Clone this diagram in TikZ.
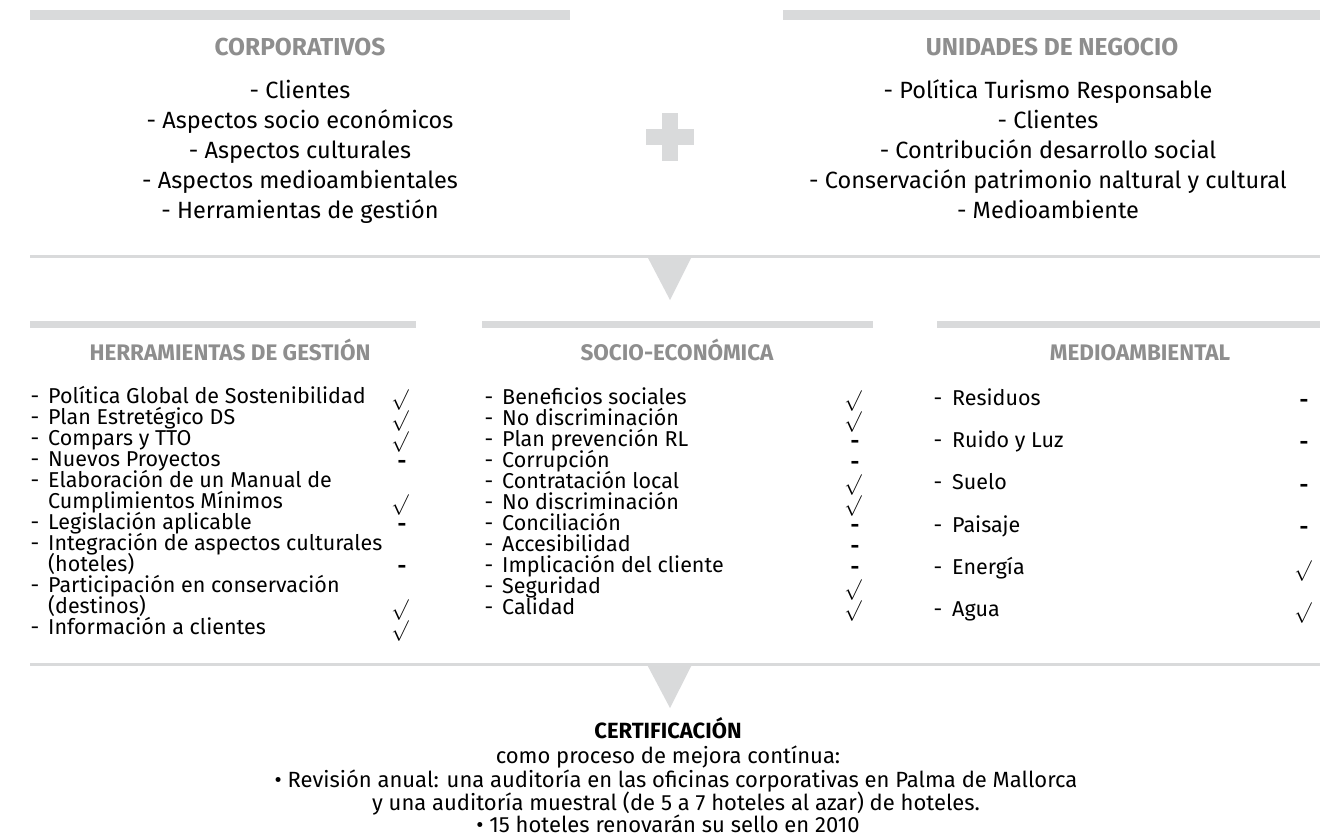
\documentclass[tikz,border=0pt]{standalone}
\usepackage{fontspec}
\setmainfont{Fira Sans}
\definecolor{bargray}{HTML}{D9DADB}
\definecolor{hdrgray}{HTML}{8E8E8E}
\tikzset{
  bar/.style={fill=bargray,draw=none},
  rule/.style={draw=bargray,line width=3pt},
  hdr/.style={text=hdrgray,font=\bfseries\fontsize{24.5}{24.5}\selectfont,inner sep=0pt,text height=0.7em,text depth=0pt},
  hdrb/.style={text=hdrgray,font=\bfseries\fontsize{22.5}{22.5}\selectfont,inner sep=0pt,text height=0.7em,text depth=0pt},
  toptxt/.style={font=\fontsize{23.5}{23.5}\selectfont,inner sep=0pt,text height=0.7em,text depth=0pt},
  bottxt/.style={font=\fontsize{22}{22}\selectfont,inner sep=0pt,text height=0.7em,text depth=0pt},
  coltxt/.style={anchor=west,font=\fontsize{21.5}{21.5}\selectfont,inner sep=0pt,text height=0.7em,text depth=0pt},
  ck/.style={inner sep=0pt,font=\fontsize{22}{22}\selectfont},
  dsh/.style={inner sep=0pt,font=\bfseries\fontsize{21.5}{21.5}\selectfont,text height=0.35em,text depth=0pt}
}
\newcommand{\ckm}{$\surd$}
\begin{document}
\begin{tikzpicture}[x=1pt,y=-1pt]
\useasboundingbox (0,0) rectangle (1335,839);
\fill[white] (0,0) rectangle (1335,839);
% top bars
\fill[bar] (30,10) rectangle (570,20);
\fill[bar] (783,10) rectangle (1320,20);
\node[hdr] (hcorp) at (300,52) {CORPORATIVOS};
\node[hdr] (hunid) at (1052,52) {UNIDADES DE NEGOCIO};
% left list
\node[toptxt] (c1) at (300,95) {- Clientes};
\node[toptxt] (c2) at (300,125) {- Aspectos socio económicos};
\node[toptxt] (c3) at (300,155) {- Aspectos culturales};
\node[toptxt] (c4) at (300,185) {- Aspectos medioambientales};
\node[toptxt] (c5) at (300,215) {- Herramientas de gestión};
% right list
\node[toptxt] (u1) at (1048,95) {- Política Turismo Responsable};
\node[toptxt] (u2) at (1048,125) {- Clientes};
\node[toptxt] (u3) at (1048,155) {- Contribución desarrollo social};
\node[toptxt] (u4) at (1048,185) {- Conservación patrimonio naltural y cultural};
\node[toptxt] (u5) at (1048,215) {- Medioambiente};
% plus
\fill[bargray] (662,113) rectangle (678,161);
\fill[bargray] (646,129) rectangle (694,145);
% rule 1 and triangle
\draw[rule] (30,256) -- (1320,256);
\fill[bargray] (647,256) -- (692,256) -- (670,300) -- cycle;
% row 2 bars
\fill[bar] (30,321) rectangle (416,328);
\fill[bar] (482,321) rectangle (873,328);
\fill[bar] (937,321) rectangle (1320,328);
\node[hdrb] (hherr) at (230,357) {HERRAMIENTAS DE GESTIÓN};
\node[hdrb] (hsoc) at (677,357) {SOCIO-ECONÓMICA};
\node[hdrb] (hmed) at (1140,357) {MEDIOAMBIENTAL};
% column 1
\foreach \i/\d/\t in {0/-/Política Global de Sostenibilidad,1/-/Plan Estretégico DS,2/-/Compars y TTO,3/-/Nuevos Proyectos,4/-/Elaboración de un Manual de,5/ /Cumplimientos Mínimos,6/-/Legislación aplicable,7/-/Integración de aspectos culturales,8/ /(hoteles),9/-/Participación en conservación,10/ /(destinos),11/-/Información a clientes}{
  \node[coltxt] (a\i) at (48,400+21*\i) {\t};
  \node[coltxt,anchor=center] (ad\i) at (35,400+21*\i) {\d};
}
\foreach \i in {0,1,2,5,10,11}{\node[ck] (ak\i) at (400,400+21*\i) {\ckm};}
\foreach \i in {3,6,8}{\node[dsh] (am\i) at (402,404+21*\i) {-};}
% column 2
\foreach \i/\t in {0/Beneficios sociales,1/No discriminación,2/Plan prevención RL,3/Corrupción,4/Contratación local,5/No discriminación,6/Conciliación,7/Accesibilidad,8/Implicación del cliente,9/Seguridad,10/Calidad}{
  \node[coltxt] (b\i) at (502,401+21*\i) {\t};
  \node[coltxt,anchor=center] (bd\i) at (489,401+21*\i) {-};
}
\foreach \i in {0,1,4,5,9,10}{\node[ck] (bk\i) at (853,401+21*\i) {\ckm};}
\foreach \i in {2,3,6,7,8}{\node[dsh] (bm\i) at (855,404.5+21*\i) {-};}
% column 3
\foreach \i/\t in {0/Residuos,1/Ruido y Luz,2/Suelo,3/Paisaje,4/Energía,5/Agua}{
  \node[coltxt] (e\i) at (952,402+42.2*\i) {\t};
  \node[coltxt,anchor=center] (ed\i) at (938,402+42.2*\i) {-};
}
\foreach \i in {0,1,2,3}{\node[dsh] (em\i) at (1304,406+42.2*\i) {-};}
\foreach \i in {4,5}{\node[ck] (ek\i) at (1303,402+42.2*\i) {\ckm};}
% rule 2 and triangle
\draw[rule] (30,664.5) -- (1320,664.5);
\fill[bargray] (647,664.5) -- (692,664.5) -- (670,708) -- cycle;
% bottom text
\node[bottxt,font=\bfseries\fontsize{22}{22}\selectfont] (cert) at (668,735) {CERTIFICACIÓN};
\node[bottxt] (l1) at (668,760) {como proceso de mejora contínua:};
\node[bottxt] (l2) at (676,784) {• Revisión anual: una auditoría en las oficinas corporativas en Palma de Mallorca};
\node[bottxt] (l3) at (676,807) {y una auditoría muestral (de 5 a 7 hoteles al azar) de hoteles.};
\node[bottxt] (l4) at (668,829) {• 15 hoteles renovarán su sello en 2010};
\end{tikzpicture}
\end{document}
